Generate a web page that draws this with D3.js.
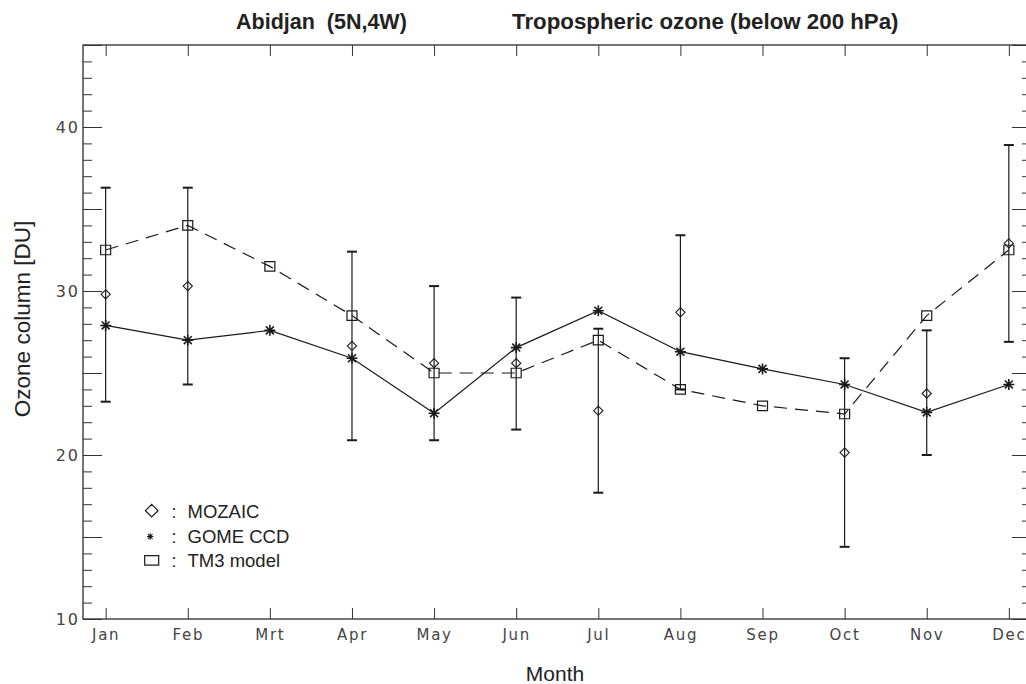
<!DOCTYPE html>
<html>
<head>
<meta charset="utf-8">
<script src="https://cdn.jsdelivr.net/npm/d3@7"></script>
<style>
  html, body { margin: 0; padding: 0; background: #fff; }
  svg { display: block; }
</style>
</head>
<body>
<script>
// ---- data ----
const months = ["Jan","Feb","Mrt","Apr","May","Jun","Jul","Aug","Sep","Oct","Nov","Dec"];
const monthIndex = [1,2,3,4,5,6,7,8,9,10,11,12];
const mozaic     = [29.8, 30.3, null, 26.65, 25.6, 25.6, 22.7, 28.7, null, 20.15, 23.75, 32.9];
const mozaicHigh = [36.3, 36.3, null, 32.4, 30.3, 29.6, 27.7, 33.4, null, 25.9, 27.6, 38.9];
const mozaicLow  = [23.25, 24.3, null, 20.9, 20.9, 21.55, 17.7, 24.0, null, 14.4, 20.0, 26.9];
const gome       = [27.9, 27.0, 27.6, 25.9, 22.55, 26.55, 28.8, 26.3, 25.25, 24.3, 22.6, 24.3];
const tm3        = [32.5, 34.0, 31.5, 28.5, 25.0, 25.0, 27.0, 24.0, 23.0, 22.5, 28.5, 32.5];
const yLabelTicks = [10, 20, 30, 40];
const legendLabels = ["MOZAIC", "GOME CCD", "TM3 model"];

const W = 1026, H = 684;
const svg = d3.select("body").append("svg").attr("width", W).attr("height", H);

const x = d3.scaleLinear().domain([0.724, 12.27]).range([83, 1031]);
const y = d3.scaleLinear().domain([10, 45]).range([619, 45]);

const ink = "#1a1a1a";
const tickFont = "'DejaVu Sans', sans-serif";
const textFont = "'Liberation Sans', Arial, Helvetica, sans-serif";

// ---- frame ----
svg.append("rect")
  .attr("x", x.range()[0]).attr("y", y.range()[1])
  .attr("width", x.range()[1] - x.range()[0])
  .attr("height", y.range()[0] - y.range()[1])
  .attr("fill", "none").attr("stroke", ink).attr("stroke-width", 1.2);

function styleAxis(g) {
  g.select(".domain").remove();
  g.selectAll(".tick line").attr("stroke", "#333").attr("stroke-width", 1);
}

const minorVals = d3.range(10, 46, 1).filter(v => v % 5 !== 0);
const majorVals = d3.range(10, 46, 5);

// left axis
svg.append("g").attr("transform", `translate(${x.range()[0]},0)`)
  .call(d3.axisLeft(y).tickValues(minorVals).tickSize(-9).tickFormat(""))
  .call(styleAxis);
svg.append("g").attr("transform", `translate(${x.range()[0]},0)`)
  .call(d3.axisLeft(y).tickValues(majorVals).tickSize(-19)
        .tickFormat(v => yLabelTicks.includes(v) ? String(v) : ""))
  .call(styleAxis)
  .call(g => g.selectAll(".tick text")
    .attr("font-family", tickFont).attr("font-size", 16)
    .attr("letter-spacing", 2).attr("fill", "#444")
    .attr("x", -3).attr("dy", "0.36em"));

// right axis
svg.append("g").attr("transform", `translate(${x.range()[1]},0)`)
  .call(d3.axisRight(y).tickValues(minorVals).tickSize(-9).tickFormat(""))
  .call(styleAxis);
svg.append("g").attr("transform", `translate(${x.range()[1]},0)`)
  .call(d3.axisRight(y).tickValues(majorVals).tickSize(-19).tickFormat(""))
  .call(styleAxis);

// bottom axis
svg.append("g").attr("transform", `translate(0,${y.range()[0]})`)
  .call(d3.axisBottom(x).tickValues(monthIndex).tickSize(-11)
        .tickFormat((d, i) => months[i]))
  .call(styleAxis)
  .call(g => g.selectAll(".tick text")
    .attr("font-family", tickFont).attr("font-size", 15)
    .attr("letter-spacing", 1.7).attr("fill", "#444")
    .attr("y", 21).attr("dy", 0));

// top axis
svg.append("g").attr("transform", `translate(0,${y.range()[1]})`)
  .call(d3.axisTop(x).tickValues(monthIndex).tickSize(-11).tickFormat(""))
  .call(styleAxis);

// ---- lines ----
const line = d3.line().x((d, i) => x(monthIndex[i])).y(d => y(d));
svg.append("path").datum(gome).attr("d", line)
  .attr("fill", "none").attr("stroke", ink).attr("stroke-width", 1.2);
svg.append("path").datum(tm3).attr("d", line)
  .attr("fill", "none").attr("stroke", ink).attr("stroke-width", 1.2)
  .attr("stroke-dasharray", "13,8");

// ---- error bars (MOZAIC) ----
const eb = svg.append("g").attr("stroke", ink);
monthIndex.forEach((m, i) => {
  if (mozaic[i] == null) return;
  const cx = x(m);
  eb.append("line").attr("x1", cx).attr("x2", cx)
    .attr("y1", y(mozaicLow[i])).attr("y2", y(mozaicHigh[i])).attr("stroke-width", 1.2);
  [mozaicLow[i], mozaicHigh[i]].forEach(v => {
    eb.append("line").attr("x1", cx - 5).attr("x2", cx + 5)
      .attr("y1", y(v)).attr("y2", y(v)).attr("stroke-width", 2);
  });
});

// ---- markers ----
function diamondPath(cx, cy, r) {
  return `M${cx},${cy - r}L${cx + r},${cy}L${cx},${cy + r}L${cx - r},${cy}Z`;
}
function squarePath(cx, cy, w, h) {
  return `M${cx - w / 2},${cy - h / 2}h${w}v${h}h${-w}Z`;
}
function starPath(cx, cy, r) {
  const d = r * 0.72;
  return `M${cx - r},${cy}H${cx + r}M${cx},${cy - r}V${cy + r}` +
         `M${cx - d},${cy - d}L${cx + d},${cy + d}M${cx - d},${cy + d}L${cx + d},${cy - d}`;
}

const mk = svg.append("g").attr("fill", "none").attr("stroke", ink);
monthIndex.forEach((m, i) => {
  if (mozaic[i] != null)
    mk.append("path").attr("d", diamondPath(x(m), y(mozaic[i]), 4.6)).attr("stroke-width", 1.1);
  mk.append("path").attr("d", squarePath(x(m), y(tm3[i]), 10, 9.5)).attr("stroke-width", 1.2);
  mk.append("path").attr("d", starPath(x(m), y(gome[i]), 5.5)).attr("stroke-width", 1.6);
});

// ---- legend ----
const lg = svg.append("g");
const legX = 151.7, legY0 = 510.7, legDy = 24.8;
lg.append("path").attr("d", diamondPath(legX, legY0, 6.3))
  .attr("fill", "none").attr("stroke", ink).attr("stroke-width", 1.2);
lg.append("path").attr("d", starPath(legX - 1.5, legY0 + legDy + 1, 3.2))
  .attr("fill", "none").attr("stroke", ink).attr("stroke-width", 1.1);
lg.append("path").attr("d", squarePath(legX, legY0 + 2 * legDy, 14, 9.5))
  .attr("fill", "none").attr("stroke", ink).attr("stroke-width", 1.2);
legendLabels.forEach((t, i) => {
  const yy = legY0 + i * legDy + 7;
  lg.append("text").attr("x", 174).attr("y", yy).attr("text-anchor", "middle")
    .attr("font-family", textFont).attr("font-size", 18).attr("fill", "#222").text(":");
  lg.append("text").attr("x", 187.5).attr("y", yy)
    .attr("font-family", textFont).attr("font-size", 18.5).attr("fill", "#222").text(t);
});

// ---- titles and axis labels ----
svg.append("text").attr("x", 236).attr("y", 29)
  .attr("font-family", textFont).attr("font-weight", "bold").attr("font-size", 21.5)
  .attr("fill", "#222").style("white-space", "pre").text("Abidjan  (5N,4W)");
svg.append("text").attr("x", 512).attr("y", 29)
  .attr("font-family", textFont).attr("font-weight", "bold").attr("font-size", 22.3)
  .attr("fill", "#222").text("Tropospheric ozone (below 200 hPa)");
svg.append("text").attr("x", 555).attr("y", 681).attr("text-anchor", "middle")
  .attr("font-family", textFont).attr("font-size", 21).attr("fill", "#222").text("Month");
svg.append("text").attr("transform", "translate(30,319) rotate(-90)")
  .attr("text-anchor", "middle")
  .attr("font-family", textFont).attr("font-size", 22.5).attr("fill", "#222")
  .text("Ozone column [DU]");
</script>
</body>
</html>
